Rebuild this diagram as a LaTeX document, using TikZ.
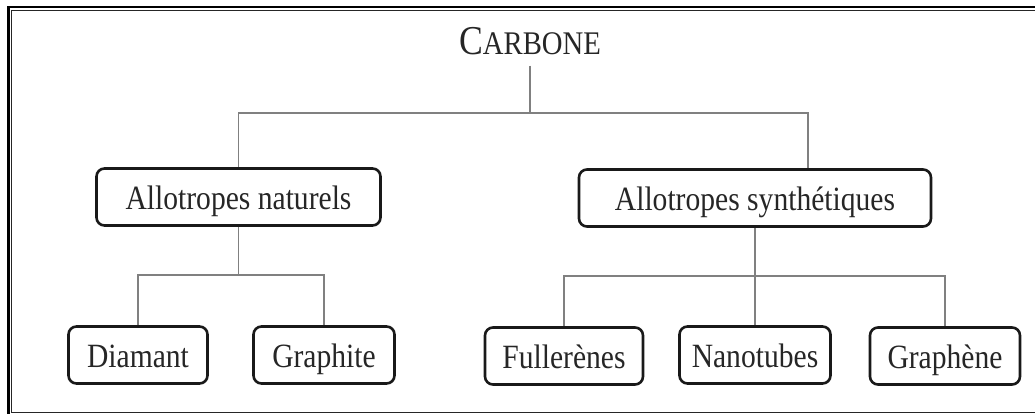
\documentclass[tikz,border=0pt]{standalone}
\usepackage{fontspec}
\setmainfont{Liberation Serif}
\newfontfamily\boxfont{Liberation Serif}[FakeStretch=0.87]
\colorlet{colorBR}{black!50}
\colorlet{colorBOX}{black!90}
\colorlet{colorTXT}{black!85}
\tikzset{
   al/.style={draw=colorBOX,line width=2.6pt,rounded corners=8pt,minimum height=57pt,inner sep=0pt,
     text height=24pt,text depth=0pt,font=\boxfont\fontsize{34}{36}\selectfont,text=colorTXT},
   top/.style={inner sep=10pt,text=colorTXT,font=\boxfont\fontsize{41}{44}\selectfont},
   br/.style={-,color=colorBR,line width=1.4pt},
   frout/.style={line width=2.7pt},
   frin/.style={line width=1.3pt,color=black!85},
}
\begin{document}
\begin{tikzpicture}[x=1pt,y=-1pt]
      \useasboundingbox (0,0) rectangle (1035,414);
      \clip (0,0) rectangle (1035,414);
      \draw[frout] (8.5,430) -- (8.5,7) -- (1050,7);
      \draw[frin] (1050,10.2) -- (11.7,10.2) -- (11.7,412.5) -- (1050,412.5);
      \node[top,anchor=base] (carb) at (530,55) {C{\fontsize{33}{36}\selectfont ARBONE}};
      \node[al,minimum width=284pt] (nat) at (238.5,197) {Allotropes naturels};
      \node[al,minimum width=352pt] (syn) at (755,198) {Allotropes synthétiques};
      \node[al,minimum width=139pt] (dia) at (138,355) {Diamant};
      \node[al,minimum width=141pt] (gra) at (324,355) {Graphite};
      \node[al,minimum width=158pt] (ful) at (564,356) {Fullerènes};
      \node[al,minimum width=151pt] (nano) at (755,355) {Nanotubes};
      \node[al,minimum width=150pt] (grn) at (945,356) {Graphène};
      \coordinate (jtop) at (530,113);
      \coordinate (jsyn) at (808,113);
      \coordinate (jnat) at (238.5,275);
      \coordinate (jsyn2) at (755,276);
      \draw[br] (carb) -- (jtop);
      \draw[br] (nat) |- (jtop) -- (jsyn) -- (jsyn |- syn.north);
      \draw[br] (nat) -- (jnat);
      \draw[br] (dia) |- (jnat) -| (gra);
      \draw[br] (syn) -- (nano);
      \draw[br] (ful) |- (jsyn2) -| (grn);
    \end{tikzpicture}
\end{document}
